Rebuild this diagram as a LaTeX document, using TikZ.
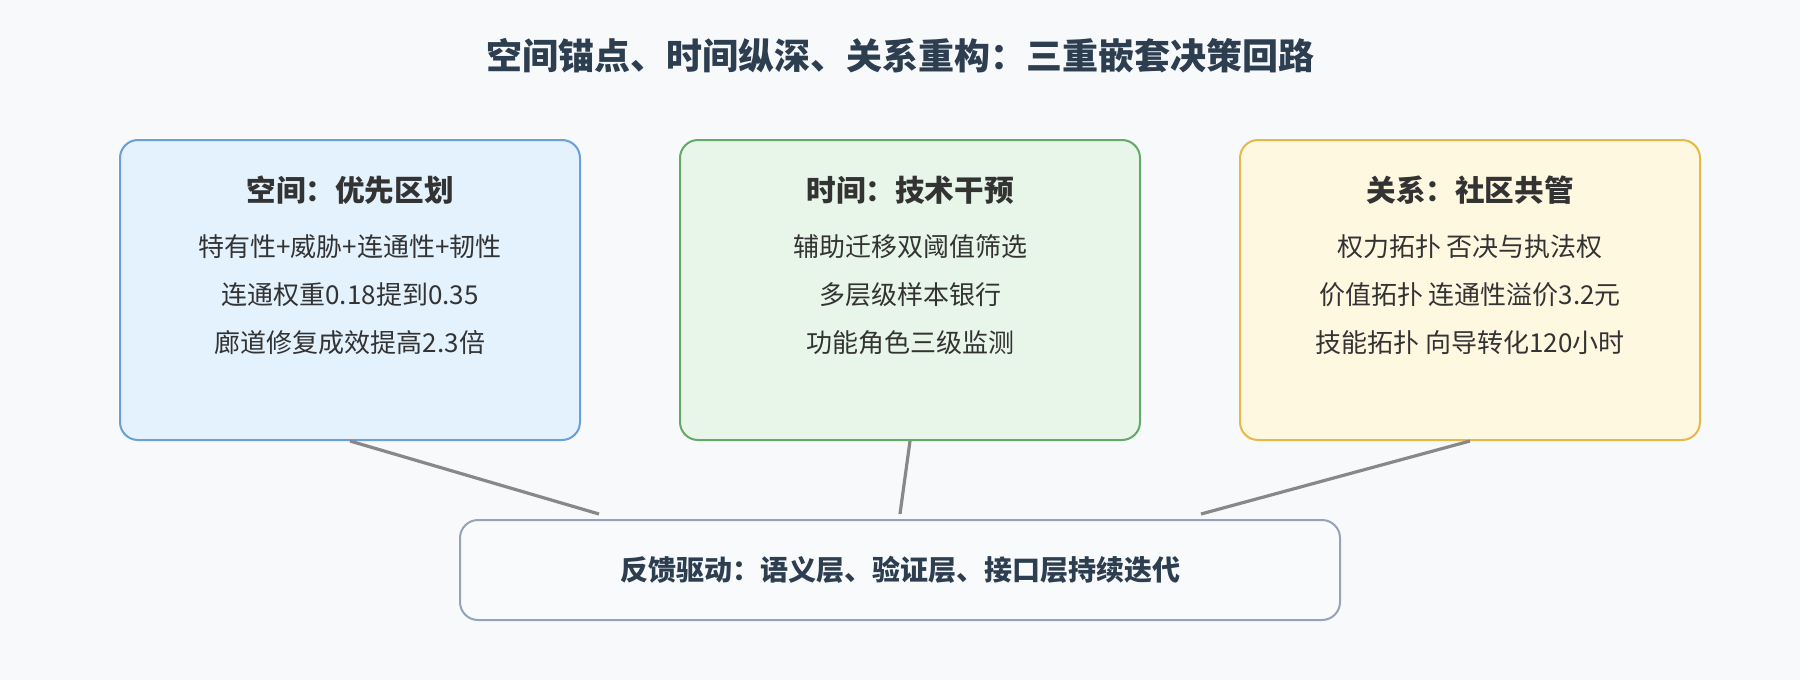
\documentclass[tikz,border=0pt]{standalone}
\usepackage{fontspec}
\setmainfont{Noto Sans CJK SC}
\definecolor{bg}{HTML}{F8F9FB}
\definecolor{titlec}{HTML}{2C3E50}
\definecolor{textc}{HTML}{333333}
\definecolor{blueF}{HTML}{E3F2FD}
\definecolor{blueS}{HTML}{6A9FD8}
\definecolor{greenF}{HTML}{E8F5E9}
\definecolor{greenS}{HTML}{66A86A}
\definecolor{yelF}{HTML}{FFF8E1}
\definecolor{yelS}{HTML}{E6B84A}
\definecolor{botF}{HTML}{F8FAFC}
\definecolor{botS}{HTML}{94A3B8}
\definecolor{linkc}{HTML}{888888}
\tikzset{
  panel/.style={draw, line width=2pt, rounded corners=18pt, minimum width=460pt, minimum height=300pt, inner sep=0pt},
  paneltitle/.style={text=textc, font=\fontsize{29.6}{29.6}\selectfont\bfseries, inner sep=0pt},
  panelline/.style={text=textc, font=\fontsize{26}{26}\selectfont, inner sep=0pt},
  link/.style={draw=linkc, line width=3.2pt},
}
\begin{document}
\begin{tikzpicture}[x=1pt,y=-1pt]
\fill[bg] (0,0) rectangle (1800,680);
\useasboundingbox (0,0) rectangle (1800,680);
\node[text=titlec, font=\fontsize{36}{36}\selectfont\bfseries, inner sep=0pt] (title) at (900,56) {空间锚点、时间纵深、关系重构：三重嵌套决策回路};

\node[panel, fill=blueF, draw=blueS] (sp) at (350,290) {};
\node[paneltitle] (spt) at (350,190) {空间：优先区划};
\node[panelline] (sp1) at (350,247) {特有性+威胁+连通性+韧性};
\node[panelline] (sp2) at (350,295) {连通权重0.18提到0.35};
\node[panelline] (sp3) at (350,343) {廊道修复成效提高2.3倍};

\node[panel, fill=greenF, draw=greenS] (tm) at (910,290) {};
\node[paneltitle] (tmt) at (910,190) {时间：技术干预};
\node[panelline] (tm1) at (910,247) {辅助迁移双阈值筛选};
\node[panelline] (tm2) at (910,295) {多层级样本银行};
\node[panelline] (tm3) at (910,343) {功能角色三级监测};

\node[panel, fill=yelF, draw=yelS] (rl) at (1470,290) {};
\node[paneltitle] (rlt) at (1470,190) {关系：社区共管};
\node[panelline] (rl1) at (1470,247) {权力拓扑 否决与执法权};
\node[panelline] (rl2) at (1470,295) {价值拓扑 连通性溢价3.2元};
\node[panelline] (rl3) at (1470,343) {技能拓扑 向导转化120小时};

\node[draw=botS, fill=botF, line width=2pt, rounded corners=18pt, minimum width=880pt, minimum height=100pt, inner sep=0pt] (fb) at (900,570) {};
\node[text=titlec, font=\fontsize{28}{28}\selectfont\bfseries, inner sep=0pt] (fbt) at (900,570) {反馈驱动：语义层、验证层、接口层持续迭代};

\draw[link] (sp.south) -- ([xshift=-301pt,yshift=5pt]fb.north);
\draw[link] (tm.south) -- ([yshift=5pt]fb.north);
\draw[link] (rl.south) -- ([xshift=301pt,yshift=5pt]fb.north);
\end{tikzpicture}
\end{document}
